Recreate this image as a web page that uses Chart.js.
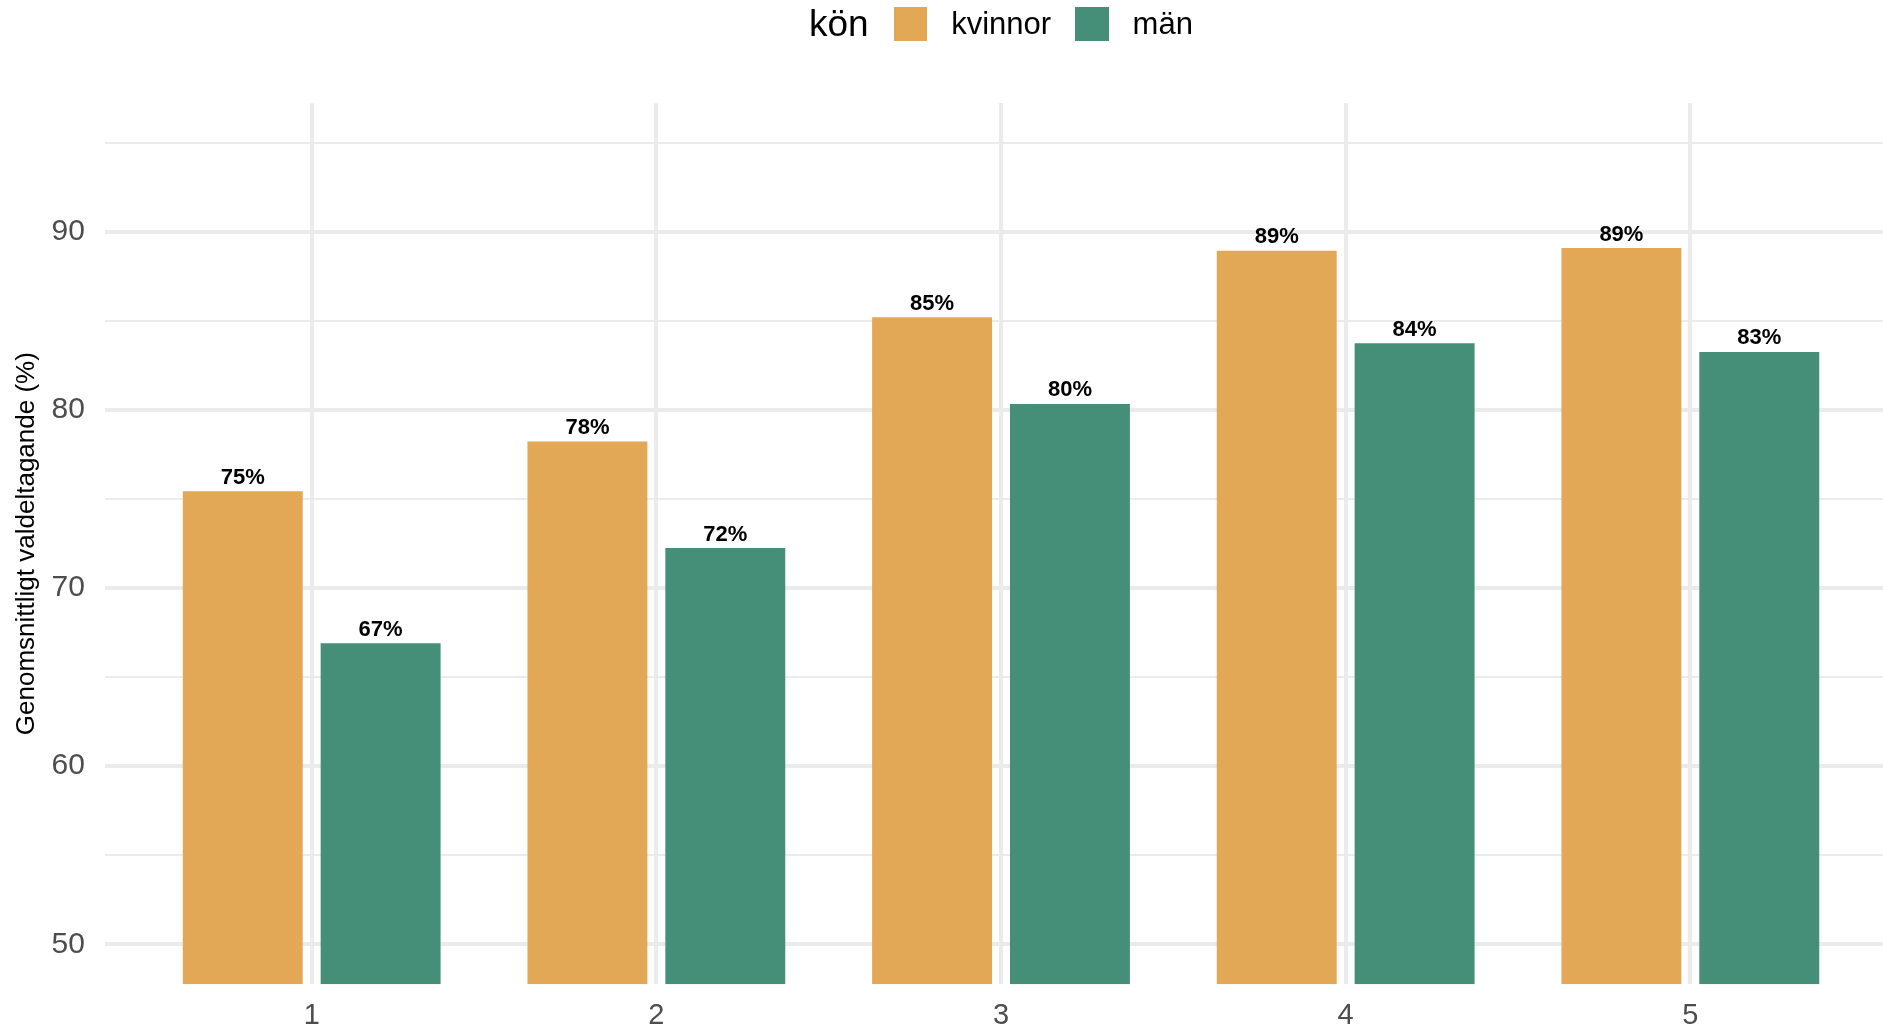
<!DOCTYPE html>
<html>
<head>
<meta charset="utf-8">
<script src="https://cdn.jsdelivr.net/npm/chart.js@4/dist/chart.umd.min.js"></script>
<style>
  html, body { margin: 0; padding: 0; background: #fff; overflow: hidden; }
  #wrap { position: relative; width: 1883px; height: 1028px; }
  #chart { position: absolute; left: 0; top: 0; }
  #legend {
    position: absolute; left: 809px; top: 0; height: 48px;
    display: flex; align-items: center; white-space: nowrap;
    font-family: "Liberation Sans", Arial, sans-serif; color: #000;
  }
  #legend .ttl { font-size: 37px; margin-right: 25px; }
  #legend .sq { width: 33.5px; height: 33.5px; margin-right: 24px; }
  #legend .lbl { font-size: 31px; margin-right: 24px; }
  #legend .lbl:last-child { margin-right: 0; }
</style>
</head>
<body>
<div id="wrap">
  <canvas id="chart" width="1883" height="1028"></canvas>
  <div id="legend"></div>
</div>
<script>
// ---- data ----
const categories = ['1', '2', '3', '4', '5'];
const seriesNames = ['kvinnor', 'män'];
const kvinnor = [75.45, 78.24, 85.22, 88.95, 89.10];
const man = [66.90, 72.25, 80.35, 83.76, 83.27];
const yTickLabels = [50, 60, 70, 80, 90];
const yMinorTicks = [55, 65, 75, 85, 95];
const legendTitle = 'kön';
const yTitle = 'Genomsnittligt valdeltagande (%)';

// ---- styles ----
const colors = ['#E2A856', '#458F78'];
const FONT = '"Liberation Sans", Arial, sans-serif';
const Y_MIN = 47.75, Y_MAX = 97.25;
const X_MIN = 0.4, X_MAX = 5.559;
const GRID = '#EBEBEB';

// legend (HTML)
const legendEl = document.getElementById('legend');
const t = document.createElement('span'); t.className = 'ttl'; t.textContent = legendTitle; legendEl.appendChild(t);
seriesNames.forEach((name, i) => {
  const sq = document.createElement('span'); sq.className = 'sq'; sq.style.background = colors[i]; legendEl.appendChild(sq);
  const lb = document.createElement('span'); lb.className = 'lbl'; lb.textContent = name; legendEl.appendChild(lb);
});

const seriesValues = [kvinnor, man];
const datasets = seriesNames.map((name, si) => ({
  label: name,
  data: categories.map((c, i) => ({ x: i + 1, y: seriesValues[si][i] })),
  backgroundColor: colors[si],
  borderWidth: 0,
  base: Y_MIN,
  categoryPercentage: 0.8,
  barPercentage: 0.87
}));

const valueLabels = {
  id: 'valueLabels',
  afterDatasetsDraw(chart) {
    const ctx = chart.ctx;
    ctx.save();
    ctx.font = 'bold 22px ' + FONT;
    ctx.fillStyle = '#000';
    ctx.textAlign = 'center';
    ctx.textBaseline = 'alphabetic';
    chart.data.datasets.forEach((ds, di) => {
      const meta = chart.getDatasetMeta(di);
      meta.data.forEach((bar, i) => {
        const v = ds.data[i].y;
        ctx.fillText(Math.round(v) + '%', bar.x, bar.y - 7.5);
      });
    });
    ctx.restore();
  }
};

new Chart(document.getElementById('chart'), {
  type: 'bar',
  data: { datasets },
  plugins: [valueLabels],
  options: {
    responsive: false,
    animation: false,
    devicePixelRatio: 1,
    layout: { padding: { top: 103, left: 0, right: 0, bottom: 0 } },
    plugins: { legend: { display: false }, tooltip: { enabled: false } },
    scales: {
      x: {
        type: 'linear',
        min: X_MIN, max: X_MAX,
        offset: false,
        afterBuildTicks: s => { s.ticks = categories.map((c, i) => ({ value: i + 1 })); },
        afterFit: s => { s.height = 43.7; },
        ticks: {
          callback: (v, i) => categories[i],
          color: '#4D4D4D',
          font: { family: FONT, size: 29 },
          padding: 14,
          maxRotation: 0
        },
        grid: { color: GRID, lineWidth: 4, drawTicks: false, offset: false },
        border: { display: false }
      },
      y: {
        type: 'linear',
        min: Y_MIN, max: Y_MAX,
        afterBuildTicks: s => {
          s.ticks = yTickLabels.concat(yMinorTicks).sort((a, b) => a - b).map(v => ({ value: v }));
        },
        afterFit: s => { s.width = 104.9; },
        ticks: {
          callback: v => yTickLabels.includes(v) ? String(v) : '',
          color: '#4D4D4D',
          font: { family: FONT, size: 30 },
          padding: 20
        },
        grid: {
          color: GRID,
          lineWidth: c => (c.tick && yTickLabels.includes(c.tick.value)) ? 4 : 2,
          drawTicks: false
        },
        border: { display: false },
        title: {
          display: true,
          text: yTitle,
          color: '#000',
          font: { family: FONT, size: 26 },
          padding: { top: 11, bottom: 0 }
        }
      }
    }
  }
});
</script>
</body>
</html>
